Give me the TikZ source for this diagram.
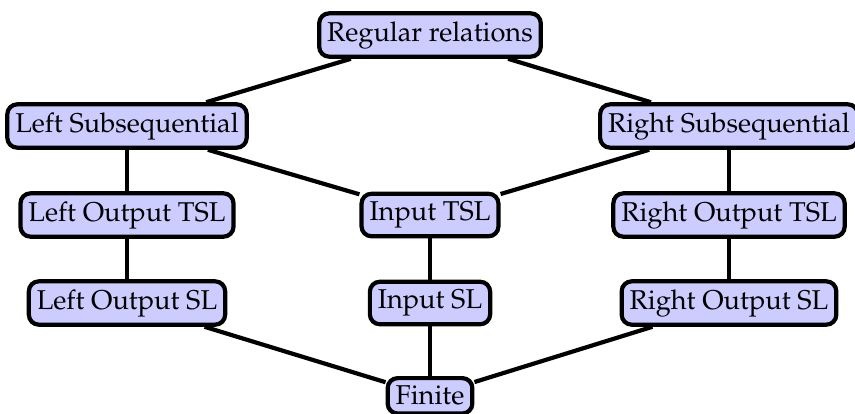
\documentclass[tikz,border=0pt]{standalone}
\usepackage[T1]{fontenc}
\usepackage{mathpazo}
\begin{document}
\begin{tikzpicture}[x=0.5pt,y=-0.5pt,
  box/.style={draw=black,fill=blue!20,line width=2.1pt,rounded corners=5pt,
    inner xsep=4pt,inner ysep=4pt,font=\fontsize{13.6}{16}\selectfont},
  link/.style={draw=black,line width=2.1pt}]
\useasboundingbox (0,0) rectangle (855,413);
\node[box] (reg) at (430,35) {Regular relations};
\node[box] (lsub) at (127,126) {Left Subsequential};
\node[box] (rsub) at (729,126) {Right Subsequential};
\node[box] (ltsl) at (127,215) {Left Output TSL};
\node[box] (itsl) at (430,215) {Input TSL};
\node[box] (rtsl) at (729,215) {Right Output TSL};
\node[box] (lsl) at (127,303) {Left Output SL};
\node[box] (isl) at (430,303) {Input SL};
\node[box] (rsl) at (729,303) {Right Output SL};
\node[box,anchor=north] (fin) at (430,376) {Finite};
\draw[link] (reg) -- (lsub);
\draw[link] (reg) -- (rsub);
\draw[link] (lsub) -- (ltsl);
\draw[link] (lsub) -- (itsl);
\draw[link] (rsub) -- (itsl);
\draw[link] (rsub) -- (rtsl);
\draw[link] (ltsl) -- (lsl);
\draw[link] (itsl) -- (isl);
\draw[link] (rtsl) -- (rsl);
\draw[link] (lsl) -- (fin);
\draw[link] (isl) -- (fin);
\draw[link] (rsl) -- (fin);
\end{tikzpicture}
\end{document}
